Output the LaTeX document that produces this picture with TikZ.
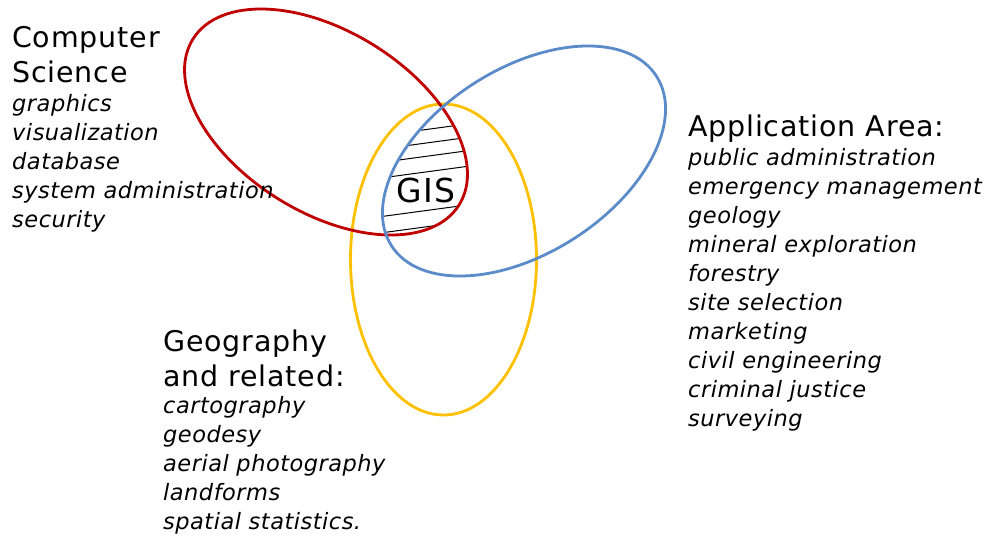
\documentclass[tikz,border=0pt]{standalone}
\usepackage{fontspec}
\setmainfont{DejaVu Sans}
\definecolor{cred}{HTML}{C00000}
\definecolor{cblue}{HTML}{5B8BC9}
\definecolor{cyel}{HTML}{FFC000}
\begin{document}
\begin{tikzpicture}[x=1pt,y=-1pt,
  ring/.style={line width=2.8pt},
  head/.style={anchor=base west, inner sep=0pt, font=\fontsize{28.5}{34}\selectfont\addfontfeature{LetterSpace=3}},
  item/.style={anchor=base west, inner sep=0pt, font=\fontsize{22.5}{29}\selectfont\itshape\addfontfeature{LetterSpace=2.2}},
  hatch/.style={line width=1pt, black}]
\useasboundingbox (0,0) rectangle (985,536);

% hatching of the intersection
\begin{scope}
  \clip[shift={(326,122)},rotate=-31.9] (0,0) ellipse [x radius=156.8pt,y radius=90.5pt];
  \clip[shift={(524,161)},rotate=32.6] (0,0) ellipse [x radius=157.3pt,y radius=92.3pt];
  \foreach \yy in {129,142.5,155.8,171.4,210,226.3}
    \draw[hatch] (330,\yy+13.5) -- (530,\yy-13.5);
\end{scope}

% ellipses
\draw[ring,cyel] (443.5,259.5) ellipse [x radius=93pt, y radius=155.5pt];
\draw[ring,cred,shift={(326,122)},rotate=-31.9] (0,0) ellipse [x radius=156.8pt,y radius=90.5pt];
\draw[ring,cblue,shift={(524,161)},rotate=32.6] (0,0) ellipse [x radius=157.3pt,y radius=92.3pt];

\node[anchor=base, inner sep=0pt, font=\fontsize{33}{38}\selectfont\addfontfeature{LetterSpace=5}] (gis) at (426,202.5) {GIS};

% Computer Science
\node[head] (cs1) at (12,47) {Computer};
\node[head] (cs2) at (12,82) {Science};
\foreach \t [count=\i] in {graphics,visualization,database,system administration,security}
  \node[item] (csi\i) at (12,{111.5+29*(\i-1)}) {\t};

% Application Area
\node[head] (ap1) at (688,136.5) {Application Area:};
\foreach \t [count=\i] in {public administration,emergency management,geology,mineral exploration,forestry,site selection,marketing,civil engineering,criminal justice,surveying}
  \node[item] (api\i) at (688,{165.5+29*(\i-1)}) {\t};

% Geography
\node[head] (ge1) at (163,351.5) {Geography};
\node[head] (ge2) at (163,386) {and related:};
\foreach \t [count=\i] in {cartography,geodesy,aerial photography,landforms,spatial statistics.}
  \node[item] (gei\i) at (163,{413.5+29*(\i-1)}) {\t};
\end{tikzpicture}
\end{document}
